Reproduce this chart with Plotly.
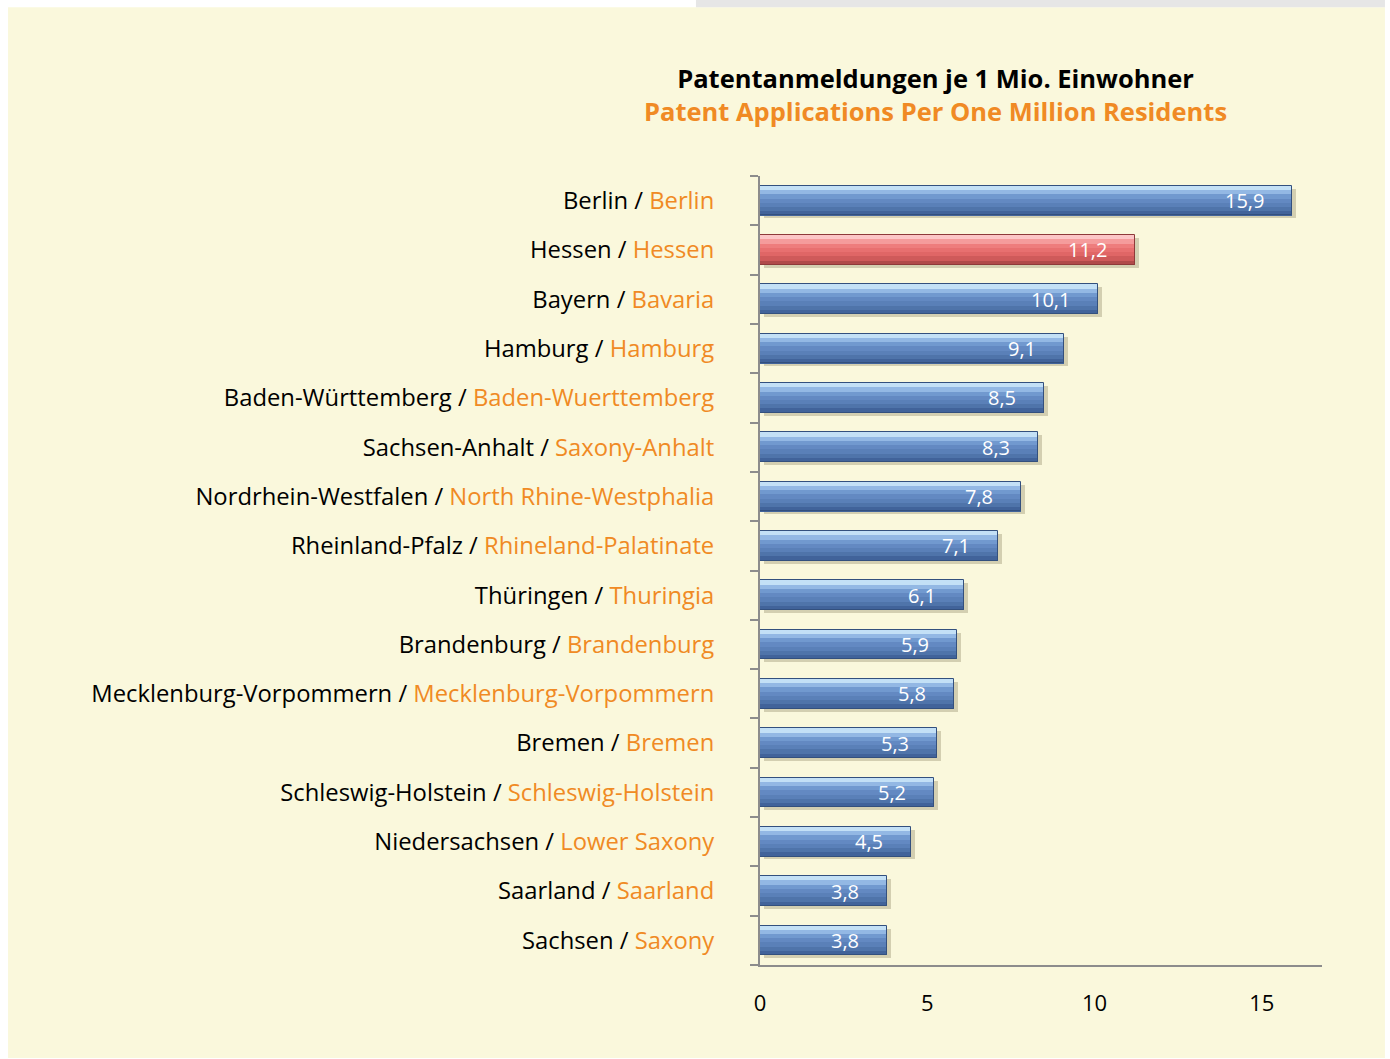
import plotly.graph_objects as go

# data
states_de = ["Berlin", "Hessen", "Bayern", "Hamburg", "Baden-Württemberg",
             "Sachsen-Anhalt", "Nordrhein-Westfalen", "Rheinland-Pfalz",
             "Thüringen", "Brandenburg", "Mecklenburg-Vorpommern", "Bremen",
             "Schleswig-Holstein", "Niedersachsen", "Saarland", "Sachsen"]
states_en = ["Berlin", "Hessen", "Bavaria", "Hamburg", "Baden-Wuerttemberg",
             "Saxony-Anhalt", "North Rhine-Westphalia", "Rhineland-Palatinate",
             "Thuringia", "Brandenburg", "Mecklenburg-Vorpommern", "Bremen",
             "Schleswig-Holstein", "Lower Saxony", "Saarland", "Saxony"]
patents = [15.9, 11.2, 10.1, 9.1, 8.5, 8.3, 7.8, 7.1, 6.1, 5.9, 5.8, 5.3,
           5.2, 4.5, 3.8, 3.8]
highlight = "Hessen"

ORANGE = "#F08A24"
FONT = "Open Sans"

# top -> bottom shades of the bar gradient
blue_shades = ["#C3E0F6", "#93B8E4", "#7199CF", "#6389C2", "#5A80B8", "#4F74AA", "#41639A"]
red_shades = ["#FCC6C6", "#F59C9C", "#EE7D7D", "#E87070", "#E06666", "#CF5A5A", "#B04A4A"]

ticktext = [f"{de} / <span style='color:{ORANGE}'>{en}</span>"
            for de, en in zip(states_de, states_en)]

fig = go.Figure()

bw = 0.6
# soft shadow
fig.add_trace(go.Bar(
    y=states_de, x=patents, base=0.12, orientation="h",
    width=bw, offset=-bw / 2 + 0.06,
    marker=dict(color="rgba(110,100,70,0.28)", line=dict(width=0)),
    hoverinfo="skip", showlegend=False))

# gradient strips
n = len(blue_shades)
sw = bw / n
for i in range(n):
    cols = [red_shades[i] if s == highlight else blue_shades[i] for s in states_de]
    fig.add_trace(go.Bar(
        y=states_de, x=patents, orientation="h",
        width=sw + 0.004, offset=-bw / 2 + i * sw,
        marker=dict(color=cols, line=dict(width=0)),
        hoverinfo="skip", showlegend=False))

# outline
edge = ["#8E3A3A" if s == highlight else "#33507E" for s in states_de]
fig.add_trace(go.Bar(
    y=states_de, x=patents, orientation="h",
    width=bw, offset=-bw / 2,
    marker=dict(color="rgba(0,0,0,0)", line=dict(color=edge, width=1)),
    showlegend=False))

for s, v in zip(states_de, patents):
    fig.add_annotation(x=v, y=s, xref="x", yref="y", xanchor="right", xshift=-26,
                       text=f"{v:.1f}".replace(".", ","), showarrow=False,
                       font=dict(family=FONT, size=20, color="white"))

fig.add_annotation(
    xref="paper", yref="paper", x=0.313, y=1.103, xanchor="center", yanchor="middle",
    text=("<b>Patentanmeldungen je 1 Mio. Einwohner</b><br>"
          f"<b><span style='color:{ORANGE}'>Patent Applications Per One Million Residents</span></b>"),
    showarrow=False, font=dict(family=FONT, size=25.5, color="black"))

# page background: cream panel and grey strip at top
fig.add_shape(type="rect", xref="paper", yref="paper", layer="below",
              x0=-1.338, x1=1.112, y0=-0.118, y1=1.214,
              fillcolor="#FAF8DC", line=dict(width=0))
fig.add_shape(type="rect", xref="paper", yref="paper", layer="below",
              x0=-0.114, x1=1.112, y0=1.214, y1=1.224,
              fillcolor="#E6E6E6", line=dict(width=0))

fig.update_layout(
    width=1390, height=1059,
    margin=dict(l=760, r=68, t=176, b=94),
    paper_bgcolor="white", plot_bgcolor="rgba(0,0,0,0)",
    barmode="overlay", bargap=0,
    font=dict(family=FONT, size=22, color="black"),
    xaxis=dict(range=[0, 16.8], tickvals=[0, 5, 10, 15], showgrid=False,
               zeroline=False, showline=True, linecolor="#8C8C8C", linewidth=2,
               ticks="", ticklabelstandoff=18,
               tickfont=dict(family=FONT, size=22, color="black")),
    yaxis=dict(autorange="reversed", tickvals=states_de, ticktext=ticktext,
               showgrid=False, showline=True, linecolor="#8C8C8C", linewidth=2,
               ticks="outside", ticklen=8, tickcolor="#8C8C8C", tickwidth=2,
               tickson="boundaries", ticklabelstandoff=39,
               tickfont=dict(family=FONT, size=23.8, color="black")),
)

fig.write_html("out.html", config={"displayModeBar": False},
               post_script="document.body.style.margin='0';")
